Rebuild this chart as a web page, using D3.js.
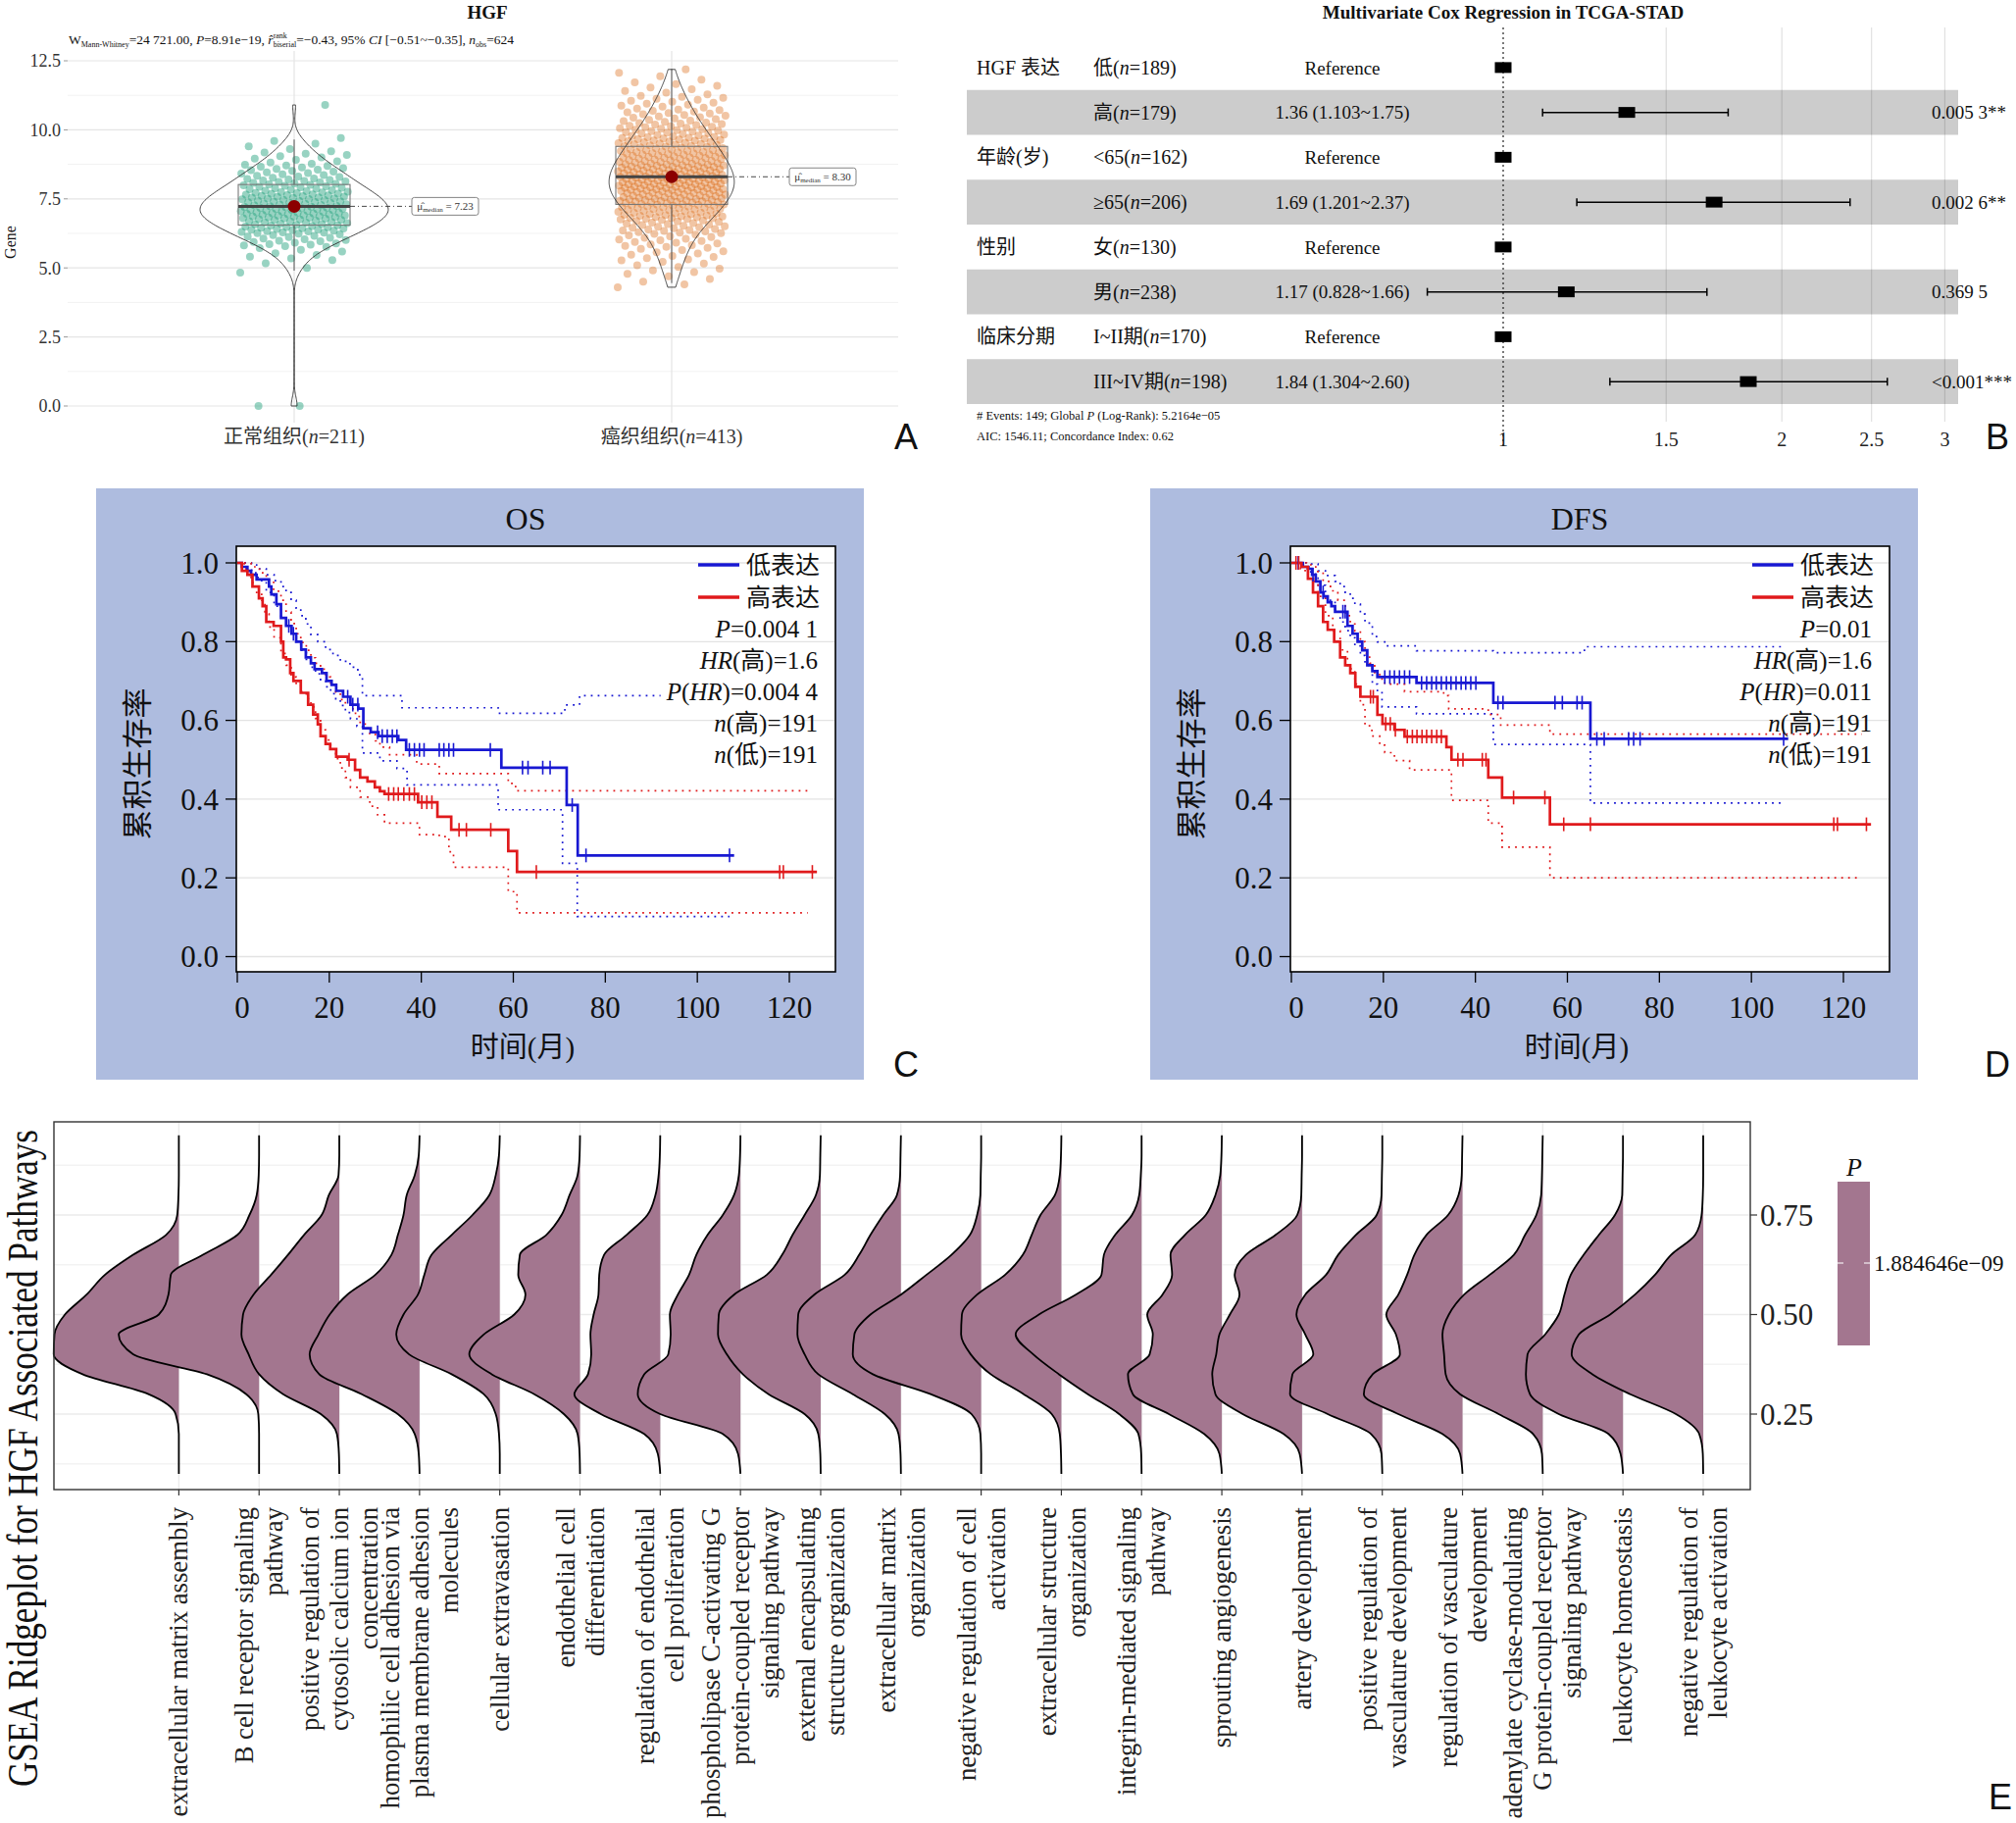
<!DOCTYPE html>
<html>
<head>
<meta charset="utf-8">
<title>HGF figure</title>
<script src="https://cdn.jsdelivr.net/npm/d3@7/dist/d3.min.js"></script>
<style>
  html, body { margin: 0; padding: 0; background: #fff; }
  #chart { width: 2056px; height: 1859px; }
  svg { font-family: "Liberation Serif", "Noto Sans CJK SC", serif; }
</style>
</head>
<body>
<div id="chart"></div>
<script>
// ---------------- A: HGF expression, normal vs tumour ----------------
const groupNames = ["正常组织", "癌织组织"];
const groupCounts = [211, 413];
// [bin centre, count] (bin width 0.5)
const normalBins = [[5.0,3],[5.5,8],[6.0,20],[6.5,33],[7.0,42],[7.5,38],[8.0,28],[8.5,20],[9.0,11],[9.5,5]];
const normalOutliers = [0.0, 0.0, 10.9];
const tumorBins = [[4.5,5],[5.0,8],[5.5,12],[6.0,17],[6.5,26],[7.0,38],[7.5,48],[8.0,54],[8.5,51],[9.0,44],[9.5,36],[10.0,28],[10.5,20],[11.0,14],[11.5,8],[12.0,4]];
const boxQ1 = [6.55, 7.30];
const boxMedian = [7.23, 8.30];
const boxQ3 = [8.02, 9.40];
const whiskerLow = [4.90, 4.45];
const whiskerHigh = [9.65, 12.20];
const yTicksA = [0, 2.5, 5, 7.5, 10, 12.5];
const yMinorA = [1.25, 3.75, 6.25, 8.75, 11.25];

// ---------------- B: multivariate Cox ----------------
const coxVariables = ["HGF 表达", "年龄(岁)", "性别", "临床分期"];
const coxLevels = ["低(*n*=189)", "高(*n*=179)", "<65(*n*=162)", "≥65(*n*=206)",
                   "女(*n*=130)", "男(*n*=238)", "I~II期(*n*=170)", "III~IV期(*n*=198)"];
const coxHR = [1, 1.36, 1, 1.69, 1, 1.17, 1, 1.84];
const coxLower = [null, 1.103, null, 1.201, null, 0.828, null, 1.304];
const coxUpper = [null, 1.75, null, 2.37, null, 1.66, null, 2.60];
const coxHRLabel = ["Reference", "1.36 (1.103~1.75)", "Reference", "1.69 (1.201~2.37)",
                    "Reference", "1.17 (0.828~1.66)", "Reference", "1.84 (1.304~2.60)"];
const coxPLabel = ["", "0.005 3**", "", "0.002 6**", "", "0.369 5", "", "<0.001***"];
const coxTicks = [1, 1.5, 2, 2.5, 3];

// ---------------- C / D: Kaplan-Meier ----------------
const kmXTicks = [0, 20, 40, 60, 80, 100, 120];
const kmYTicks = [0, 0.2, 0.4, 0.6, 0.8, 1.0];

const osLow = [[0,1],[1.0,0.99],[2.2,0.98],[3.0,0.97],[4.2,0.958],[6.9,0.94],[7.4,0.92],[8.5,0.895],[9.5,0.86],[10.6,0.84],[11.8,0.82],[12.8,0.80],[13.9,0.78],[14.9,0.76],[16.0,0.745],[16.8,0.73],[18.4,0.72],[19.4,0.70],[20.5,0.69],[21.5,0.675],[23.0,0.66],[24.6,0.64],[26.3,0.63],[27.4,0.58],[29.0,0.57],[30.7,0.56],[35.0,0.55],[36.7,0.525],[57.4,0.48],[71.6,0.385],[74.0,0.257],[108,0.257]];
const osHigh = [[0,1],[1.0,0.98],[2.2,0.97],[3.3,0.94],[4.7,0.91],[5.5,0.89],[6.3,0.85],[7.9,0.84],[9.5,0.80],[10.0,0.76],[10.6,0.755],[11.5,0.72],[12.2,0.70],[13.8,0.67],[15.4,0.64],[16.5,0.615],[17.5,0.59],[18.1,0.56],[19.2,0.54],[20.2,0.527],[21.5,0.508],[24.0,0.50],[25.6,0.474],[26.7,0.455],[28.3,0.445],[29.9,0.43],[31.0,0.42],[32.0,0.413],[39.3,0.392],[43.5,0.355],[46.5,0.322],[58.9,0.268],[60.8,0.215],[126,0.215]];
const osLowUpper = [[0,1],[3.1,0.995],[4.2,0.985],[6.3,0.97],[8.0,0.955],[9.5,0.94],[10.6,0.925],[11.7,0.905],[12.8,0.885],[13.8,0.866],[14.9,0.845],[16.0,0.818],[17.5,0.80],[19.2,0.78],[20.8,0.765],[22.4,0.75],[24.5,0.735],[26.2,0.716],[27.2,0.663],[35.8,0.632],[56.7,0.618],[71.2,0.639],[74.4,0.663],[92,0.663]];
const osLowLower = [[0,1],[2.0,0.985],[3.1,0.975],[4.5,0.955],[6.3,0.925],[8.0,0.89],[9.5,0.861],[10.6,0.84],[11.7,0.817],[12.8,0.80],[13.8,0.778],[15.0,0.755],[16.0,0.735],[17.0,0.718],[18.1,0.70],[19.2,0.685],[20.3,0.668],[21.4,0.652],[22.4,0.638],[23.5,0.62],[24.6,0.604],[26.0,0.585],[27.2,0.517],[31.0,0.497],[34.7,0.478],[36.9,0.436],[56.7,0.373],[70.7,0.237],[73.9,0.102],[107,0.102]];
const osHighUpper = [[0,1],[3.0,0.99],[4.8,0.975],[6.3,0.957],[7.9,0.928],[9.5,0.905],[10.6,0.875],[11.7,0.846],[12.8,0.82],[13.8,0.798],[15.0,0.778],[16.0,0.759],[17.0,0.745],[18.1,0.73],[19.2,0.71],[20.3,0.692],[21.4,0.672],[22.4,0.653],[23.5,0.64],[24.6,0.629],[25.7,0.61],[26.7,0.595],[27.8,0.58],[28.8,0.566],[30.0,0.548],[31.0,0.532],[33.1,0.513],[39.0,0.489],[43.9,0.465],[58.9,0.44],[60.5,0.421],[124,0.421]];
const osHighLower = [[0,1],[1.5,0.985],[3.0,0.95],[4.0,0.925],[5.3,0.905],[6.0,0.87],[6.9,0.837],[8.0,0.81],[9.5,0.77],[10.6,0.74],[11.7,0.71],[12.8,0.69],[13.8,0.673],[15.0,0.655],[16.0,0.634],[17.0,0.605],[18.1,0.576],[19.2,0.55],[20.3,0.527],[21.4,0.503],[22.4,0.479],[23.5,0.455],[24.6,0.43],[26.7,0.405],[28.8,0.382],[30.5,0.36],[32.0,0.339],[39.6,0.31],[43.9,0.305],[46.0,0.266],[47.0,0.227],[58.9,0.165],[60.8,0.111],[124,0.111]];
const osLowCensor = [11.2,12.2,24,25.1,26.2,30.5,31.5,32.6,33.7,34.7,37.4,38.5,39.6,40.6,43.9,44.9,46,47,55,62,63.2,66.4,68,72.8,75.8,107];
const osHighCensor = [24.3,32.9,34,35,36.2,37.4,38.5,40.1,41.2,42.3,48.2,49.8,55.1,65,117.9,118.7,125];
const osStats = ["*P*=0.004 1", "*HR*(高)=1.6", "*P*(*HR*)=0.004 4", "*n*(高)=191", "*n*(低)=191"];

const dfsLow = [[0,1],[2.5,0.99],[3.6,0.985],[4.5,0.97],[5.3,0.953],[6.3,0.925],[7.0,0.915],[7.9,0.90],[8.7,0.89],[9.5,0.876],[12.2,0.84],[13.3,0.82],[14.4,0.80],[15.4,0.778],[16.5,0.74],[17.6,0.725],[18.7,0.71],[27.2,0.695],[43.9,0.645],[65.0,0.553],[108,0.553]];
const dfsHigh = [[0,1],[2.2,0.99],[3.6,0.96],[4.7,0.925],[5.8,0.89],[6.9,0.85],[7.9,0.83],[9.3,0.80],[10.6,0.76],[11.7,0.74],[12.8,0.72],[13.9,0.685],[15.0,0.66],[18.7,0.614],[19.8,0.591],[22.4,0.576],[24.6,0.559],[33.7,0.532],[34.8,0.50],[42.8,0.455],[45.8,0.404],[56.2,0.336],[126,0.336]];
const dfsLowUpper = [[0,1],[4.2,0.997],[5.8,0.98],[7.4,0.968],[9.5,0.953],[10.6,0.94],[11.7,0.925],[12.8,0.91],[13.8,0.895],[15.0,0.87],[16.0,0.847],[17.6,0.813],[18.7,0.799],[20.3,0.789],[27.2,0.777],[43.9,0.772],[63.7,0.787],[107,0.787]];
const dfsLowLower = [[0,1],[2.5,0.99],[4.2,0.972],[5.8,0.943],[7.4,0.905],[9.5,0.876],[10.6,0.85],[11.7,0.828],[12.8,0.81],[13.8,0.789],[15.0,0.765],[16.0,0.74],[17.6,0.692],[18.7,0.673],[19.7,0.634],[27.2,0.617],[43.9,0.539],[65.0,0.39],[107,0.39]];
const dfsHighUpper = [[0,1],[3.3,0.995],[5.3,0.978],[6.9,0.953],[8.5,0.929],[10.1,0.905],[11.7,0.866],[12.8,0.845],[13.8,0.827],[15.0,0.80],[16.0,0.77],[17.0,0.745],[18.1,0.721],[19.2,0.705],[20.3,0.692],[24.6,0.673],[33.1,0.663],[34.2,0.629],[42.8,0.615],[45.5,0.588],[56.2,0.565],[124,0.565]];
const dfsHighLower = [[0,1],[2.0,0.985],[3.0,0.97],[4.2,0.953],[5.8,0.915],[7.4,0.866],[9.0,0.827],[10.6,0.779],[12.2,0.731],[13.8,0.692],[15.0,0.64],[16.0,0.586],[17.5,0.56],[19.2,0.537],[20.3,0.518],[22.4,0.498],[25.7,0.474],[34.8,0.397],[42.8,0.339],[45.8,0.278],[56.2,0.2],[123.8,0.2]];
const dfsLowCensor = [1.5,4.7,6.9,11.2,11.7,20.3,21.4,22.4,23.5,24.6,25.7,28.3,29.4,30.5,31.5,32.6,33.7,34.7,35.8,36.9,37.9,39.0,40.1,44.9,46.0,57.3,58.9,62.1,63.2,66.4,68.0,73.3,74.4,75.8,107];
const dfsHighCensor = [1.0,1.6,17.2,17.8,20.5,21.5,22.6,25.2,26.3,27.3,28.4,29.4,30.5,31.6,32.6,36.2,37.3,41.5,42.3,48.3,55.1,59.2,65.0,117.9,118.7,125];
const dfsStats = ["*P*=0.01", "*HR*(高)=1.6", "*P*(*HR*)=0.011", "*n*(高)=191", "*n*(低)=191"];

// ---------------- E: GSEA ridgeplot ----------------
const pathwayLabels = [
  "extracellular matrix assembly",
  "B cell receptor signaling\npathway",
  "positive regulation of\ncytosolic calcium ion\nconcentration",
  "homophilic cell adhesion via\nplasma membrane adhesion\nmolecules",
  "cellular extravasation",
  "endothelial cell\ndifferentiation",
  "regulation of endothelial\ncell proliferation",
  "phospholipase C-activating G\nprotein-coupled receptor\nsignaling pathway",
  "external encapsulating\nstructure organization",
  "extracellular matrix\norganization",
  "negative regulation of cell\nactivation",
  "extracellular structure\norganization",
  "integrin-mediated signaling\npathway",
  "sprouting angiogenesis",
  "artery development",
  "positive regulation of\nvasculature development",
  "regulation of vasculature\ndevelopment",
  "adenylate cyclase-modulating\nG protein-coupled receptor\nsignaling pathway",
  "leukocyte homeostasis",
  "negative regulation of\nleukocyte activation"
];
// value positions where each ridge height was read
const ridgeGrid = [0.95,0.90,0.85,0.80,0.75,0.70,0.65,0.60,0.55,0.50,0.45,0.40,0.35,0.30,0.25,0.20,0.15,0.10];
// ridge height at each grid value, in units of category spacing
const ridgeHeights = [
  [0,0,0,0.005,0.02,0.16,0.57,0.92,1.15,1.42,1.55,1.56,1.2,0.38,0.04,0,0,0],
  [0,0,0.005,0.03,0.12,0.27,0.7,1.1,1.13,1.25,1.75,1.57,0.65,0.16,0.01,0,0,0],
  [0,0,0.01,0.13,0.22,0.44,0.64,0.85,1.07,1.2,1.22,1.13,1.0,0.7,0.23,0.03,0.005,0],
  [0,0.01,0.06,0.16,0.2,0.27,0.35,0.55,0.9,1.12,1.26,1.37,1.25,0.72,0.27,0.06,0.01,0],
  [0,0.01,0.05,0.13,0.34,0.6,0.85,0.94,1.02,1.2,1.29,1.13,0.6,0.2,0.05,0.01,0,0],
  [0,0.005,0.03,0.13,0.23,0.42,0.75,0.77,0.68,0.82,1.2,1.38,1.1,0.57,0.2,0.03,0.005,0],
  [0,0.005,0.02,0.06,0.16,0.42,0.7,0.76,0.77,0.83,0.87,0.86,0.9,1.07,0.74,0.2,0.03,0],
  [0,0.005,0.02,0.08,0.22,0.41,0.55,0.64,0.78,0.88,0.87,0.9,1.2,1.28,1.0,0.22,0.03,0],
  [0,0.005,0.01,0.06,0.2,0.35,0.48,0.67,1.08,1.27,1.28,1.17,0.97,0.65,0.2,0.03,0.005,0],
  [0,0.005,0.01,0.05,0.22,0.38,0.52,0.7,1.08,1.28,1.29,1.2,1.03,0.6,0.2,0.03,0.005,0],
  [0,0,0.005,0.01,0.05,0.14,0.37,0.68,1.0,1.38,1.58,1.6,1.35,0.63,0.12,0.01,0,0],
  [0,0.005,0.02,0.08,0.26,0.37,0.48,0.7,1.05,1.24,1.25,1.13,0.88,0.47,0.12,0.02,0.005,0],
  [0,0,0.01,0.03,0.12,0.33,0.47,0.5,0.82,1.28,1.57,1.35,1.03,0.67,0.28,0.04,0.005,0],
  [0,0.005,0.02,0.08,0.2,0.46,0.64,0.62,0.74,0.93,0.86,0.9,1.17,1.11,0.66,0.22,0.03,0],
  [0,0,0.005,0.01,0.06,0.33,0.7,0.84,0.78,0.9,1.03,1.07,1.12,1.08,0.74,0.23,0.03,0],
  [0,0,0.005,0.01,0.07,0.33,0.55,0.7,0.96,1.07,0.96,0.86,1.12,1.15,0.68,0.14,0.01,0],
  [0,0.005,0.01,0.05,0.18,0.45,0.6,0.69,0.8,0.95,0.83,0.78,1.12,1.23,0.8,0.25,0.03,0],
  [0,0.005,0.01,0.02,0.08,0.22,0.36,0.66,0.98,1.17,1.25,1.23,1.21,1.03,0.55,0.12,0.01,0],
  [0,0,0.005,0.01,0.1,0.3,0.49,0.65,0.73,0.8,0.97,1.19,1.21,1.16,0.8,0.18,0.03,0],
  [0,0,0,0.005,0.02,0.1,0.4,0.6,0.85,1.16,1.55,1.64,1.38,0.91,0.34,0.05,0.005,0]
];
const ridgeYTicks = [0.25, 0.50, 0.75];
const ridgeGridLines = [0.125, 0.25, 0.375, 0.5, 0.625, 0.75, 0.875];
const legendPValue = "1.884646e−09";

// ====================================================================
const W = 2056, H = 1859;
const svg = d3.select("#chart").append("svg")
  .attr("width", W).attr("height", H)
  .attr("viewBox", `0 0 ${W} ${H}`)
  .attr("fill", "#111");
svg.append("rect").attr("width", W).attr("height", H).attr("fill", "#fff");

// "*x*" segments become italic tspans
function rich(sel, str) {
  str.split("*").forEach((seg, k) => {
    if (!seg) return;
    sel.append("tspan").attr("font-style", k % 2 ? "italic" : null).text(seg);
  });
  return sel;
}

// ---------------- Panel A ----------------
(function panelA() {
  const g = svg.append("g");
  const x = d3.scalePoint().domain(groupNames).range([69, 916]).padding(0.6);
  const y = d3.scaleLinear().domain([0, 12.5]).range([414, 62]);

  g.selectAll("line.minor").data(yMinorA).join("line")
    .attr("x1", 69).attr("x2", 916)
    .attr("y1", d => y(d)).attr("y2", d => y(d))
    .attr("stroke", "#f2f2f2").attr("stroke-width", 1);
  g.selectAll("line.major").data(yTicksA).join("line")
    .attr("x1", 69).attr("x2", 916)
    .attr("y1", d => y(d)).attr("y2", d => y(d))
    .attr("stroke", "#e5e5e5").attr("stroke-width", 1.2);
  g.selectAll("line.vgrid").data(groupNames).join("line")
    .attr("x1", d => x(d)).attr("x2", d => x(d))
    .attr("y1", 52).attr("y2", 431)
    .attr("stroke", "#e5e5e5").attr("stroke-width", 1.2);

  // y axis
  g.selectAll("text.ytick").data(yTicksA).join("text")
    .attr("x", 62).attr("y", d => y(d)).attr("dy", "0.35em")
    .attr("text-anchor", "end").attr("font-size", 18).attr("fill", "#333")
    .text(d => d3.format(".1f")(d));
  g.selectAll("line.ytickmark").data(yTicksA).join("line")
    .attr("x1", 65).attr("x2", 69).attr("y1", d => y(d)).attr("y2", d => y(d))
    .attr("stroke", "#999");
  g.append("text").attr("transform", "translate(16,247) rotate(-90)")
    .attr("text-anchor", "middle").attr("font-size", 16).text("Gene");

  // x labels
  groupNames.forEach((nm, i) => {
    rich(g.append("text").attr("x", x(nm)).attr("y", 452)
      .attr("text-anchor", "middle").attr("font-size", 20).attr("fill", "#333"),
      `${nm}(*n*=${groupCounts[i]})`);
  });

  // title and subtitle
  g.append("text").attr("x", 497).attr("y", 19).attr("text-anchor", "middle")
    .attr("font-size", 19).attr("font-weight", "bold").text("HGF");
  const sub = g.append("text").attr("x", 70).attr("y", 45).attr("font-size", 13.5);
  sub.append("tspan").text("W");
  sub.append("tspan").attr("font-size", 8).attr("dy", 3).text("Mann-Whitney");
  sub.append("tspan").attr("dy", -3).text("=24 721.00, ");
  sub.append("tspan").attr("font-style", "italic").text("P");
  sub.append("tspan").text("=8.91e−19, ");
  sub.append("tspan").attr("font-style", "italic").text("r\u0302");
  sub.append("tspan").attr("font-size", 8).attr("dy", -6).text("rank");
  sub.append("tspan").attr("font-size", 8).attr("dx", -14.2).attr("dy", 9).text("biserial");
  sub.append("tspan").attr("dy", -3).text("=−0.43, 95% ");
  sub.append("tspan").attr("font-style", "italic").text("CI");
  sub.append("tspan").text(" [−0.51~−0.35], ");
  sub.append("tspan").attr("font-style", "italic").text("n");
  sub.append("tspan").attr("font-size", 8).attr("dy", 3).text("obs");
  sub.append("tspan").attr("dy", -3).text("=624");

  const expand = bins => bins.flatMap(([c, n]) =>
    d3.range(n).map(j => c - 0.25 + (j + 0.5) / n * 0.5));
  const values = [expand(normalBins).concat(normalOutliers), expand(tumorBins)];
  const colors = ["#1B9E77", "#D95F02"];

  function nrd0(v) {
    const s = v.slice().sort(d3.ascending);
    const iqr = d3.quantileSorted(s, 0.75) - d3.quantileSorted(s, 0.25);
    return 0.9 * Math.min(d3.deviation(v), iqr / 1.34) * Math.pow(v.length, -0.2);
  }
  const dens = values.map(v => {
    const bw = nrd0(v), lo = d3.min(v), hi = d3.max(v);
    return d3.range(241).map(i => {
      const t = lo + (hi - lo) * i / 240;
      return [t, d3.mean(v, u => Math.exp(-0.5 * ((t - u) / bw) ** 2)) / (bw * Math.sqrt(2 * Math.PI))];
    });
  });
  const w = d3.scaleLinear().domain([0, d3.max(dens.flat(), d => d[1])]).range([0, 96]);

  groupNames.forEach((nm, i) => {
    const cx = x(nm);
    // jittered points
    g.append("g").selectAll("circle").data(values[i]).join("circle")
      .attr("cx", (d, k) => cx + (((k * 0.6180339887) % 1) * 2 - 1) * 55)
      .attr("cy", d => y(d)).attr("r", 4)
      .attr("fill", colors[i]).attr("fill-opacity", i ? 0.36 : 0.45);
    // box
    g.append("line").attr("x1", cx).attr("x2", cx)
      .attr("y1", y(boxQ3[i])).attr("y2", y(whiskerHigh[i])).attr("stroke", "#555");
    g.append("line").attr("x1", cx).attr("x2", cx)
      .attr("y1", y(boxQ1[i])).attr("y2", y(whiskerLow[i])).attr("stroke", "#555");
    g.append("rect").attr("x", cx - 57).attr("width", 114)
      .attr("y", y(boxQ3[i])).attr("height", y(boxQ1[i]) - y(boxQ3[i]))
      .attr("fill", "none").attr("stroke", "#777").attr("stroke-width", 1.1);
    g.append("line").attr("x1", cx - 57).attr("x2", cx + 57)
      .attr("y1", y(boxMedian[i])).attr("y2", y(boxMedian[i]))
      .attr("stroke", "#444").attr("stroke-width", 3);
    // violin
    g.append("path").datum(dens[i])
      .attr("d", d3.area().y(d => y(d[0])).x0(d => cx - w(d[1])).x1(d => cx + w(d[1])).curve(d3.curveBasis))
      .attr("fill", "none").attr("stroke", "#333").attr("stroke-width", 0.9);
    // centrality
    g.append("circle").attr("cx", cx).attr("cy", y(boxMedian[i])).attr("r", 6.5).attr("fill", "#8B0000");
    g.append("line").attr("x1", cx + 57).attr("x2", cx + 120)
      .attr("y1", y(boxMedian[i])).attr("y2", y(boxMedian[i]))
      .attr("stroke", "#333").attr("stroke-width", 0.9).attr("stroke-dasharray", "5,3,1,3");
    g.append("rect").attr("x", cx + 120).attr("y", y(boxMedian[i]) - 9)
      .attr("width", 68).attr("height", 18).attr("rx", 2.5)
      .attr("fill", "#fff").attr("stroke", "#777").attr("stroke-width", 0.9);
    const lab = g.append("text").attr("x", cx + 154).attr("y", y(boxMedian[i]) + 4)
      .attr("text-anchor", "middle").attr("font-size", 11).attr("fill", "#333");
    lab.append("tspan").text("μ\u0302");
    lab.append("tspan").attr("font-size", 7).attr("dy", 2).text("median");
    lab.append("tspan").attr("dy", -2).text(" = " + boxMedian[i].toFixed(2));
  });
})();

// ---------------- Panel B ----------------
(function panelB() {
  const g = svg.append("g");
  const row = d3.scaleBand().domain(d3.range(coxLevels.length)).range([46, 412]);
  const x = d3.scaleLog().domain([1, 3]).range([1533, 1533 + 410 * Math.log(3)]);
  const cy = i => row(i) + row.bandwidth() / 2;

  g.selectAll("rect.band").data(d3.range(coxLevels.length).filter(i => i % 2 === 1)).join("rect")
    .attr("x", 986).attr("width", 1011)
    .attr("y", i => row(i)).attr("height", row.bandwidth())
    .attr("fill", "#cccccc");
  g.selectAll("line.vg").data(coxTicks.filter(t => t > 1)).join("line")
    .attr("x1", d => x(d)).attr("x2", d => x(d)).attr("y1", 28).attr("y2", 430)
    .attr("stroke", "#000").attr("stroke-opacity", 0.12).attr("stroke-width", 1.2);
  g.append("line").attr("x1", x(1)).attr("x2", x(1)).attr("y1", 28).attr("y2", 455)
    .attr("stroke", "#222").attr("stroke-width", 1.2).attr("stroke-dasharray", "2,3");

  g.selectAll("text.tick").data(coxTicks).join("text")
    .attr("x", d => x(d)).attr("y", 455).attr("text-anchor", "middle")
    .attr("font-size", 20).attr("fill", "#222").text(d => d);

  g.append("text").attr("x", 1533).attr("y", 19).attr("text-anchor", "middle")
    .attr("font-size", 19).attr("font-weight", "bold").text("Multivariate Cox Regression in TCGA-STAD");

  coxVariables.forEach((v, k) => {
    g.append("text").attr("x", 996).attr("y", cy(k * 2)).attr("dy", "0.35em")
      .attr("font-size", 20).text(v);
  });
  coxLevels.forEach((lv, i) => {
    rich(g.append("text").attr("x", 1115).attr("y", cy(i)).attr("dy", "0.35em").attr("font-size", 20), lv);
    g.append("text").attr("x", 1369).attr("y", cy(i)).attr("dy", "0.35em")
      .attr("text-anchor", "middle").attr("font-size", 19).text(coxHRLabel[i]);
    if (coxPLabel[i]) {
      g.append("text").attr("x", 1970).attr("y", cy(i)).attr("dy", "0.35em")
        .attr("font-size", 19).text(coxPLabel[i]);
    }
    if (coxLower[i] != null) {
      const x1 = x(coxLower[i]), x2 = x(coxUpper[i]);
      g.append("line").attr("x1", x1).attr("x2", x2).attr("y1", cy(i)).attr("y2", cy(i))
        .attr("stroke", "#000").attr("stroke-width", 1.5);
      [x1, x2].forEach(xx => g.append("line").attr("x1", xx).attr("x2", xx)
        .attr("y1", cy(i) - 4).attr("y2", cy(i) + 4).attr("stroke", "#000").attr("stroke-width", 1.5));
    }
    g.append("rect").attr("x", x(coxHR[i]) - 8.5).attr("y", cy(i) - 5.5)
      .attr("width", 17).attr("height", 11).attr("fill", "#000");
  });

  rich(g.append("text").attr("x", 996).attr("y", 428).attr("font-size", 12.5),
    "# Events: 149; Global *P* (Log-Rank): 5.2164e−05");
  g.append("text").attr("x", 996).attr("y", 449).attr("font-size", 12.5)
    .text("AIC: 1546.11; Concordance Index: 0.62");
})();

// ---------------- Panels C / D ----------------
function drawKM(ox, title, low, high, lowUp, lowLo, highUp, highLo, lowCens, highCens, stats) {
  const g = svg.append("g").attr("transform", `translate(${ox},0)`);
  const blue = "#1818d2", red = "#e01a1c";
  g.append("rect").attr("x", 98).attr("y", 498).attr("width", 783).attr("height", 603).attr("fill", "#AEBCDF");
  g.append("rect").attr("x", 241).attr("y", 557).attr("width", 611).attr("height", 434).attr("fill", "#fff");

  const x = d3.scaleLinear().domain([0, 120]).range([242, 805]);
  const y = d3.scaleLinear().domain([0, 1]).range([975.5, 574]);

  g.selectAll("line.grid").data(kmYTicks).join("line")
    .attr("x1", 242).attr("x2", 851).attr("y1", d => y(d)).attr("y2", d => y(d))
    .attr("stroke", "#e3e3e3").attr("stroke-width", 1.3);

  const step = d3.line().x(d => x(d[0])).y(d => y(d[1])).curve(d3.curveStepAfter);
  [[lowUp, blue], [lowLo, blue], [highUp, red], [highLo, red]].forEach(([c, col]) => {
    g.append("path").attr("d", step(c)).attr("fill", "none").attr("stroke", col)
      .attr("stroke-width", 1.7).attr("stroke-dasharray", "1.8,5.2");
  });
  [[low, blue], [high, red]].forEach(([c, col]) => {
    g.append("path").attr("d", step(c)).attr("fill", "none").attr("stroke", col).attr("stroke-width", 2.7);
  });
  const survAt = (c, t) => { let s = c[0][1]; for (const [tt, ss] of c) { if (tt <= t) s = ss; else break; } return s; };
  [[lowCens, low, blue], [highCens, high, red]].forEach(([cs, c, col]) => {
    g.append("g").selectAll("line").data(cs).join("line")
      .attr("x1", d => x(d)).attr("x2", d => x(d))
      .attr("y1", d => y(survAt(c, d)) - 7).attr("y2", d => y(survAt(c, d)) + 7)
      .attr("stroke", col).attr("stroke-width", 1.6);
  });

  g.append("rect").attr("x", 241).attr("y", 557).attr("width", 611).attr("height", 434)
    .attr("fill", "none").attr("stroke", "#000").attr("stroke-width", 1.6);

  // axes
  g.selectAll("line.yt").data(kmYTicks).join("line")
    .attr("x1", 230).attr("x2", 241).attr("y1", d => y(d)).attr("y2", d => y(d)).attr("stroke", "#000").attr("stroke-width", 1.3);
  g.selectAll("text.yt").data(kmYTicks).join("text")
    .attr("x", 223).attr("y", d => y(d)).attr("dy", "0.35em").attr("text-anchor", "end")
    .attr("font-size", 31).text(d => d.toFixed(1));
  g.selectAll("line.xt").data(kmXTicks).join("line")
    .attr("x1", d => x(d)).attr("x2", d => x(d)).attr("y1", 991).attr("y2", 1002).attr("stroke", "#000").attr("stroke-width", 1.3);
  g.selectAll("text.xt").data(kmXTicks).join("text")
    .attr("x", d => x(d) + (d === 0 ? 5 : 0)).attr("y", 1038).attr("text-anchor", "middle")
    .attr("font-size", 31).text(d => d);
  g.append("text").attr("x", 533).attr("y", 1078).attr("text-anchor", "middle").attr("font-size", 29).text("时间(月)");
  g.append("text").attr("transform", "translate(140,779) rotate(-90)").attr("text-anchor", "middle")
    .attr("dy", "0.35em").attr("font-size", 31).text("累积生存率");
  g.append("text").attr("x", 536).attr("y", 540).attr("text-anchor", "middle").attr("font-size", 32).text(title);

  // legend
  [["低表达", blue, 576], ["高表达", red, 609]].forEach(([lab, col, ly]) => {
    g.append("line").attr("x1", 712).attr("x2", 754).attr("y1", ly).attr("y2", ly)
      .attr("stroke", col).attr("stroke-width", 3.5);
    g.append("text").attr("x", 761).attr("y", ly).attr("dy", "0.35em").attr("font-size", 25).text(lab);
  });
  stats.forEach((s, k) => {
    rich(g.append("text").attr("x", 834).attr("y", 641 + k * 32).attr("dy", "0.35em")
      .attr("text-anchor", "end").attr("font-size", 25), s);
  });
}
drawKM(0, "OS", osLow, osHigh, osLowUpper, osLowLower, osHighUpper, osHighLower, osLowCensor, osHighCensor, osStats);
drawKM(1075, "DFS", dfsLow, dfsHigh, dfsLowUpper, dfsLowLower, dfsHighUpper, dfsHighLower, dfsLowCensor, dfsHighCensor, dfsStats);

// ---------------- Panel E ----------------
(function panelE() {
  const g = svg.append("g");
  const fill = "#A3768F";
  const x = d3.scaleLinear().domain([0, pathwayLabels.length - 1]).range([182.4, 1737]);
  const unit = x(1) - x(0);
  const y = d3.scaleLinear().domain([0.25, 0.75]).range([1442, 1239]);
  const L = 55, R = 1785, T = 1144, B = 1519;

  g.selectAll("line.hg").data(ridgeGridLines).join("line")
    .attr("x1", L).attr("x2", R).attr("y1", d => y(d)).attr("y2", d => y(d))
    .attr("stroke", (d, i) => i % 2 ? "#ebebeb" : "#f3f3f3").attr("stroke-width", 1.3);
  g.selectAll("line.vg").data(pathwayLabels).join("line")
    .attr("x1", (d, i) => x(i)).attr("x2", (d, i) => x(i)).attr("y1", T).attr("y2", B)
    .attr("stroke", "#ebebeb").attr("stroke-width", 1.3);

  const ridge = d3.line().x(d => d[0]).y(d => d[1]).curve(d3.curveMonotoneY);
  pathwayLabels.forEach((nm, i) => {
    const bx = x(i);
    const pts = ridgeGrid.map((v, k) => [bx - ridgeHeights[i][k] * unit, y(v)]);
    const d = ridge(pts);
    g.append("path").attr("d", `${d}L${bx},${y(ridgeGrid[0])}Z`).attr("fill", fill);
    g.append("path").attr("d", d).attr("fill", "none").attr("stroke", "#000").attr("stroke-width", 1.8);
  });

  g.append("rect").attr("x", L).attr("y", T).attr("width", R - L).attr("height", B - T)
    .attr("fill", "none").attr("stroke", "#333").attr("stroke-width", 1.4);

  // bottom category ticks + labels
  g.selectAll("line.xt").data(pathwayLabels).join("line")
    .attr("x1", (d, i) => x(i)).attr("x2", (d, i) => x(i)).attr("y1", B).attr("y2", B + 6)
    .attr("stroke", "#333").attr("stroke-width", 1.2);
  pathwayLabels.forEach((nm, i) => {
    const lines = nm.split("\n");
    const t = g.append("text")
      .attr("transform", `translate(${x(i)},1537) rotate(-90) scale(0.97,1)`)
      .attr("text-anchor", "end").attr("font-size", 27.5).attr("fill", "#222");
    lines.forEach((ln, k) => {
      t.append("tspan").attr("x", 0).attr("y", (k - (lines.length - 1) / 2) * 30)
        .attr("dy", "0.33em").text(ln);
    });
  });

  // right value axis
  g.selectAll("line.yt").data(ridgeYTicks).join("line")
    .attr("x1", R).attr("x2", R + 7).attr("y1", d => y(d)).attr("y2", d => y(d))
    .attr("stroke", "#333").attr("stroke-width", 1.2);
  g.selectAll("text.yt").data(ridgeYTicks).join("text")
    .attr("x", R + 10).attr("y", d => y(d)).attr("dy", "0.35em")
    .attr("font-size", 31).attr("fill", "#222").text(d => d.toFixed(2));

  g.append("text").attr("transform", "translate(38,1822) rotate(-90)")
    .attr("font-size", 44).attr("textLength", 670).attr("lengthAdjust", "spacingAndGlyphs")
    .attr("fill", "#111").text("GSEA Ridgeplot for HGF Associated Pathways");

  // colour legend
  g.append("text").attr("x", 1891).attr("y", 1199).attr("text-anchor", "middle")
    .attr("font-size", 26).attr("font-style", "italic").text("P");
  g.append("rect").attr("x", 1874).attr("y", 1205).attr("width", 33).attr("height", 167).attr("fill", fill);
  [[1874, 1880], [1901, 1907]].forEach(([a, b]) => g.append("line")
    .attr("x1", a).attr("x2", b).attr("y1", 1288).attr("y2", 1288)
    .attr("stroke", "#fff").attr("stroke-opacity", 0.7).attr("stroke-width", 1.5));
  g.append("text").attr("x", 1911).attr("y", 1288).attr("dy", "0.35em")
    .attr("font-size", 23).text(legendPValue);
})();

// panel letters
[["A", 924, 458], ["B", 2037, 458], ["C", 924, 1098], ["D", 2037, 1098], ["E", 2040, 1845]].forEach(([t, px, py]) => {
  svg.append("text").attr("x", px).attr("y", py).attr("text-anchor", "middle")
    .attr("font-family", "'Liberation Sans', Arial, sans-serif").attr("font-size", 36).text(t);
});
</script>
</body>
</html>
